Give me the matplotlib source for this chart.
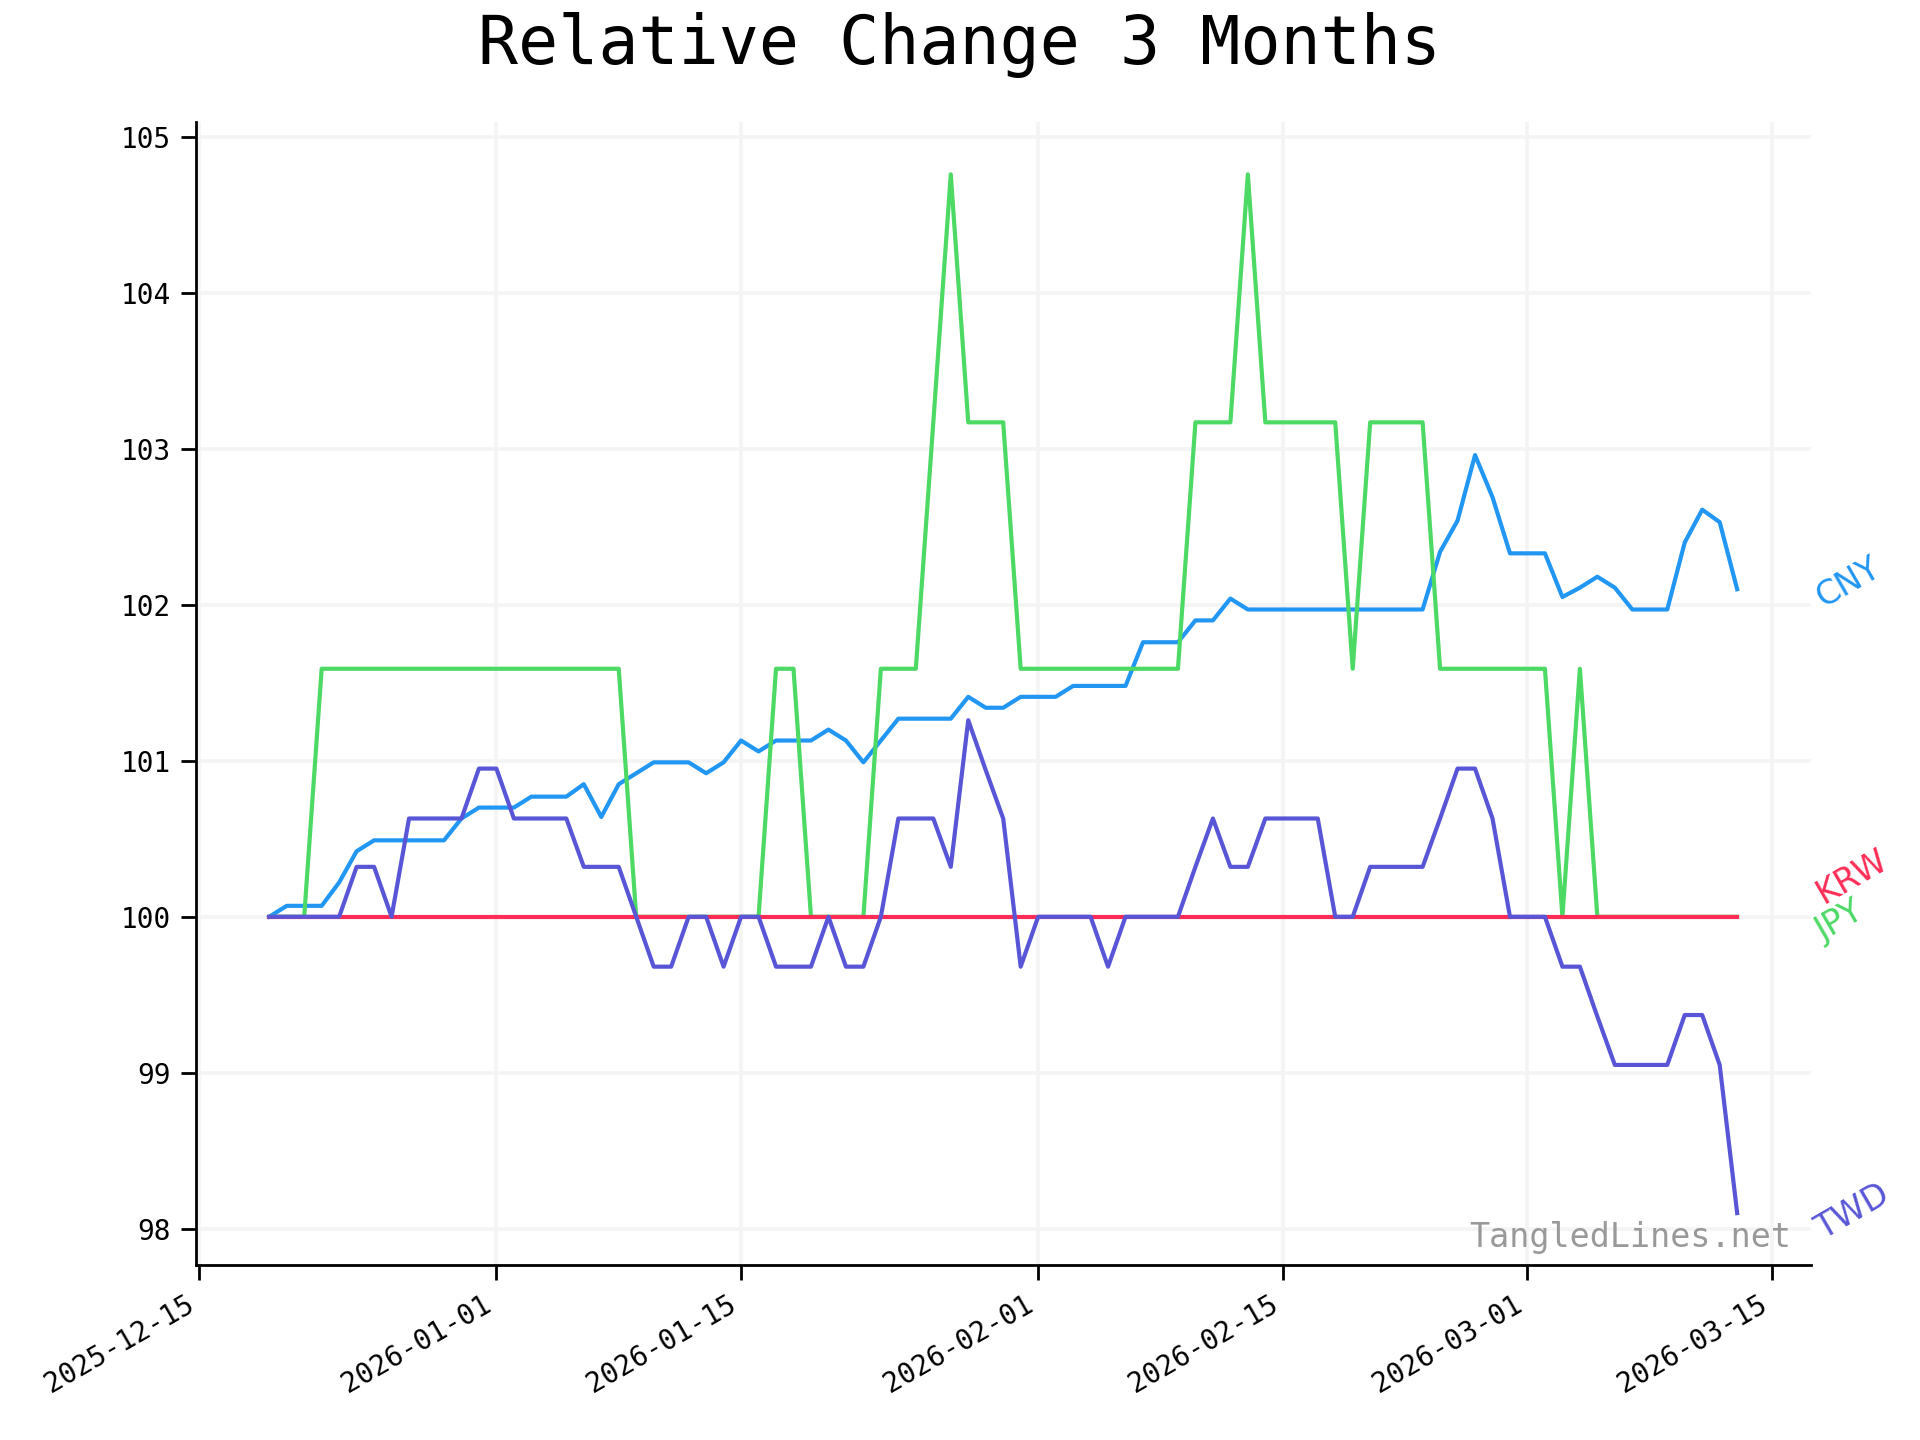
import pandas as pd
import matplotlib
matplotlib.use("Agg")
import matplotlib.pyplot as plt
import matplotlib.dates as mdates

dates = pd.date_range("2025-12-19", "2026-03-13", freq="D")

cny = [100.00, 100.07, 100.07, 100.07, 100.22, 100.42, 100.49, 100.49, 100.49, 100.49,
       100.49, 100.63, 100.70, 100.70, 100.70, 100.77, 100.77, 100.77, 100.85, 100.64,
       100.85, 100.92, 100.99, 100.99, 100.99, 100.92, 100.99, 101.13, 101.06, 101.13,
       101.13, 101.13, 101.20, 101.13, 100.99, 101.13, 101.27, 101.27, 101.27, 101.27,
       101.41, 101.34, 101.34, 101.41, 101.41, 101.41, 101.48, 101.48, 101.48, 101.48,
       101.76, 101.76, 101.76, 101.90, 101.90, 102.04, 101.97, 101.97, 101.97, 101.97,
       101.97, 101.97, 101.97, 101.97, 101.97, 101.97, 101.97, 102.34, 102.54, 102.96,
       102.69, 102.33, 102.33, 102.33, 102.05, 102.11, 102.18, 102.11, 101.97, 101.97,
       101.97, 102.40, 102.61, 102.53, 102.10]

jpy = [100.00, 100.00, 100.00, 101.59, 101.59, 101.59, 101.59, 101.59, 101.59, 101.59,
       101.59, 101.59, 101.59, 101.59, 101.59, 101.59, 101.59, 101.59, 101.59, 101.59,
       101.59, 100.00, 100.00, 100.00, 100.00, 100.00, 100.00, 100.00, 100.00, 101.59,
       101.59, 100.00, 100.00, 100.00, 100.00, 101.59, 101.59, 101.59, 103.17, 104.76,
       103.17, 103.17, 103.17, 101.59, 101.59, 101.59, 101.59, 101.59, 101.59, 101.59,
       101.59, 101.59, 101.59, 103.17, 103.17, 103.17, 104.76, 103.17, 103.17, 103.17,
       103.17, 103.17, 101.59, 103.17, 103.17, 103.17, 103.17, 101.59, 101.59, 101.59,
       101.59, 101.59, 101.59, 101.59, 100.00, 101.59, 100.00, 100.00, 100.00, 100.00,
       100.00, 100.00, 100.00, 100.00, 100.00]

krw = [100.00] * 85

twd = [100.00, 100.00, 100.00, 100.00, 100.00, 100.32, 100.32, 100.00, 100.63, 100.63,
       100.63, 100.63, 100.95, 100.95, 100.63, 100.63, 100.63, 100.63, 100.32, 100.32,
       100.32, 100.00, 99.68, 99.68, 100.00, 100.00, 99.68, 100.00, 100.00, 99.68,
       99.68, 99.68, 100.00, 99.68, 99.68, 100.00, 100.63, 100.63, 100.63, 100.32,
       101.26, 100.94, 100.63, 99.68, 100.00, 100.00, 100.00, 100.00, 99.68, 100.00,
       100.00, 100.00, 100.00, 100.32, 100.63, 100.32, 100.32, 100.63, 100.63, 100.63,
       100.63, 100.00, 100.00, 100.32, 100.32, 100.32, 100.32, 100.63, 100.95, 100.95,
       100.63, 100.00, 100.00, 100.00, 99.68, 99.68, 99.36, 99.05, 99.05, 99.05,
       99.05, 99.37, 99.37, 99.05, 98.10]

names = ["CNY", "JPY", "KRW", "TWD"]
colors = ["#2196F3", "#4CD964", "#FF2D55", "#5856D6"]
label_y = [102.14, 99.97, 100.26, 98.11]

mono = "DejaVu Sans Mono"

fig = plt.figure(figsize=(9.6, 7.2), dpi=200)
ax = fig.add_axes([0.102, 0.1215, 0.841, 0.7935])

for vals, c in zip([cny, jpy, krw, twd], colors):
    ax.plot(dates, vals, color=c, lw=1.5)

ax.xaxis.set_major_locator(mdates.DayLocator(bymonthday=[1, 15]))
ax.xaxis.set_major_formatter(mdates.DateFormatter("%Y-%m-%d"))
for lbl in ax.get_xticklabels():
    lbl.set_rotation(30)
    lbl.set_ha("right")
    lbl.set_fontfamily(mono)
for lbl in ax.get_yticklabels():
    lbl.set_fontfamily(mono)
ax.tick_params(labelsize=10, length=5.5, width=1.0)

ax.grid(True, color="#f4f4f4", lw=1.3)
ax.set_axisbelow(True)
for s in ["top", "right"]:
    ax.spines[s].set_visible(False)
for s in ["left", "bottom"]:
    ax.spines[s].set_linewidth(1.0)

xmax = ax.get_xlim()[1]
for n, c, y in zip(names, colors, label_y):
    ax.annotate(n, (xmax, y), xytext=(0, 0), textcoords="offset points",
                color=c, fontsize=12, rotation=30, ha="left", va="center",
                annotation_clip=False)

ax.text(0.988, 0.010, "TangledLines.net", transform=ax.transAxes, ha="right",
        va="bottom", fontsize=12, color="#999999", family=mono)

fig.suptitle("Relative Change 3 Months", fontsize=24, family=mono, y=0.992)

fig.savefig("out.png", dpi=200)
